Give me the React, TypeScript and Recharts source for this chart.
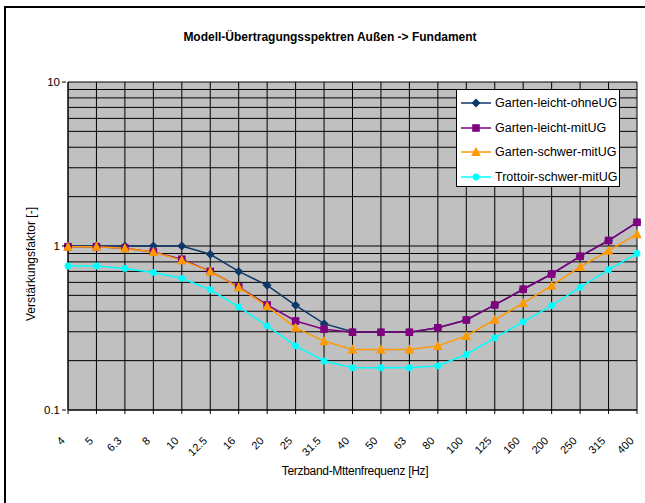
import { CartesianGrid, Legend, Line, LineChart, XAxis, YAxis } from "recharts";

const frequencies = ["4", "5", "6.3", "8", "10", "12.5", "16", "20", "25", "31.5", "40", "50", "63", "80", "100", "125", "160", "200", "250", "315", "400"];

const gartenLeichtOhneUG = [1.0, 1.0, 1.0, 1.0, 1.0, 0.89, 0.7, 0.576, 0.435, 0.336, 0.3, 0.298, 0.298, 0.317, 0.354, 0.437, 0.545, 0.675, 0.865, 1.08, 1.395];
const gartenLeichtMitUG = [0.99, 0.99, 0.97, 0.92, 0.83, 0.7, 0.563, 0.437, 0.349, 0.311, 0.298, 0.298, 0.298, 0.317, 0.354, 0.437, 0.545, 0.675, 0.865, 1.08, 1.395];
const gartenSchwerMitUG = [0.99, 0.99, 0.97, 0.92, 0.82, 0.7, 0.56, 0.43, 0.317, 0.263, 0.234, 0.234, 0.234, 0.246, 0.283, 0.355, 0.449, 0.573, 0.745, 0.936, 1.18];
const trottoirSchwerMitUG = [0.755, 0.755, 0.73, 0.69, 0.635, 0.541, 0.425, 0.326, 0.246, 0.199, 0.181, 0.181, 0.181, 0.186, 0.218, 0.275, 0.345, 0.433, 0.56, 0.717, 0.9];

// labelled decades and the minor grid lines between them
const yLabels = [0.1, 1, 10];
const yGrid = [0.1, 0.2, 0.3, 0.4, 0.5, 0.6, 0.7, 0.8, 0.9, 1, 2, 3, 4, 5, 6, 7, 8, 9, 10];

const series = [
  { key: "ohne", name: "Garten-leicht-ohneUG", color: "#0D3868", shape: "diamond", values: gartenLeichtOhneUG },
  { key: "leicht", name: "Garten-leicht-mitUG", color: "#800080", shape: "square", values: gartenLeichtMitUG },
  { key: "schwer", name: "Garten-schwer-mitUG", color: "#FF9900", shape: "triangle", values: gartenSchwerMitUG },
  { key: "trottoir", name: "Trottoir-schwer-mitUG", color: "#00FFFF", shape: "circle", values: trottoirSchwerMitUG },
];

const data = frequencies.map((f, i) => {
  const row: Record<string, string | number> = { f };
  series.forEach((s) => (row[s.key] = s.values[i]));
  return row;
});

const FONT = "'Liberation Sans', Arial, sans-serif";

const Marker = ({ shape, color, cx, cy }: { shape: string; color: string; cx: number; cy: number }) => {
  if (cx == null || cy == null) return null;
  if (shape === "diamond")
    return <path d={`M${cx},${cy - 4.5}L${cx + 4.5},${cy}L${cx},${cy + 4.5}L${cx - 4.5},${cy}Z`} fill={color} />;
  if (shape === "square") return <rect x={cx - 3.8} y={cy - 3.8} width={7.6} height={7.6} fill={color} />;
  if (shape === "triangle")
    return <path d={`M${cx},${cy - 5.2}L${cx + 4.8},${cy + 4}L${cx - 4.8},${cy + 4}Z`} fill={color} />;
  return <circle cx={cx} cy={cy} r={3.4} fill={color} />;
};

const renderYTick = ({ x, y, payload }: any) => {
  if (!yLabels.includes(payload.value)) return <g key={payload.value} />;
  return (
    <g key={payload.value}>
      <line x1={x + 2} x2={x + 6} y1={y} y2={y} stroke="#000" />
      <text x={x} y={y + 4} textAnchor="end" fontSize={11.5} fontFamily={FONT} fill="#000">
        {payload.value}
      </text>
    </g>
  );
};

const LegendBox = () => (
  <div
    style={{
      background: "#fff",
      border: "1px solid #000",
      width: 164,
      height: 98,
      boxSizing: "border-box",
      paddingTop: 1,
      fontFamily: FONT,
      fontSize: 12.5,
    }}
  >
    {series.map((s) => (
      <div key={s.key} style={{ display: "flex", alignItems: "center", height: 24.5 }}>
        <svg width={36} height={12} style={{ marginLeft: 3 }}>
          <line x1={1} x2={31} y1={6} y2={6} stroke={s.color} strokeWidth={1.5} />
          <Marker shape={s.shape} color={s.color} cx={16} cy={6} />
        </svg>
        <span style={{ marginLeft: -1, whiteSpace: "nowrap" }}>{s.name}</span>
      </div>
    ))}
  </div>
);

export default function App() {
  return (
    <div style={{ position: "absolute", left: 0, top: 0, width: 645, height: 503, background: "#fff", overflow: "hidden" }}>
      <div
        style={{
          position: "absolute",
          left: 4,
          top: 6,
          width: 650,
          height: 510,
          borderLeft: "2px solid #000",
          borderTop: "2px solid #000",
        }}
      />
      <div
        style={{
          position: "absolute",
          left: 0,
          width: 660,
          top: 30,
          textAlign: "center",
          fontFamily: FONT,
          fontWeight: "bold",
          fontSize: 12,
        }}
      >
        Modell-Übertragungsspektren Außen -&gt; Fundament
      </div>
      <div
        style={{
          position: "absolute",
          left: 31,
          top: 264,
          transform: "translate(-50%, -50%) rotate(-90deg)",
          whiteSpace: "nowrap",
          fontFamily: FONT,
          fontSize: 12,
        }}
      >
        Verstärkungsfaktor [-]
      </div>
      <div
        style={{
          position: "absolute",
          left: 355,
          top: 471,
          transform: "translate(-50%, -50%)",
          whiteSpace: "nowrap",
          fontFamily: FONT,
          fontSize: 12,
          letterSpacing: -0.3,
        }}
      >
        Terzband-Mttenfrequenz [Hz]
      </div>
      <div style={{ position: "absolute", left: 0, top: 0 }}>
        <LineChart width={645} height={503} data={data} margin={{ top: 82, right: 8, bottom: 33, left: 0 }}>
          <CartesianGrid stroke="#000" fill="#C0C0C0" fillOpacity={1} strokeWidth={1} />
          <XAxis
            dataKey="f"
            type="category"
            interval={0}
            height={60}
            stroke="#000"
            tickSize={4}
            tick={{ angle: -45, textAnchor: "end", fontSize: 11, fontFamily: FONT, fill: "#000", dx: -8, dy: 20 }}
          />
          <YAxis
            scale="log"
            type="number"
            domain={[0.1, 10]}
            ticks={yGrid}
            allowDataOverflow
            width={68}
            stroke="#000"
            tickLine={false}
            interval={0}
            tick={renderYTick}
          />
          {series.map((s) => (
            <Line
              key={s.key}
              dataKey={s.key}
              name={s.name}
              stroke={s.color}
              strokeWidth={1.5}
              isAnimationActive={false}
              dot={(p: any) => <Marker key={`${s.key}-${p.index}`} shape={s.shape} color={s.color} cx={p.cx} cy={p.cy} />}
              activeDot={false}
            />
          ))}
          <Legend
            layout="vertical"
            align="center"
            verticalAlign="middle"
            content={<LegendBox />}
            wrapperStyle={{ position: "absolute", left: 456, top: 89, width: 164, height: 98 }}
          />
        </LineChart>
      </div>
    </div>
  );
}
